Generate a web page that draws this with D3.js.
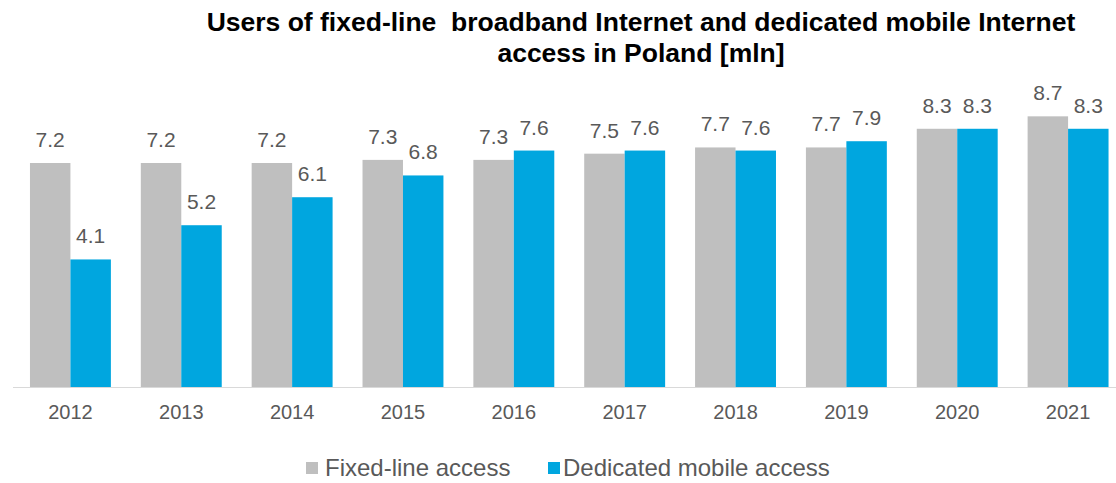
<!DOCTYPE html>
<html>
<head>
<meta charset="utf-8">
<script src="https://cdn.jsdelivr.net/npm/d3@7"></script>
<style>
  body { margin: 0; background: #fff; }
  text { font-family: Arial, "Liberation Sans", sans-serif; }
</style>
</head>
<body>
<script>
var width = 1116,
    height = 483;

var years = ["2012", "2013", "2014", "2015", "2016", "2017", "2018", "2019", "2020", "2021"];
var fixedLine = [7.2, 7.2, 7.2, 7.3, 7.3, 7.5, 7.7, 7.7, 8.3, 8.7];
var mobile = [4.1, 5.2, 6.1, 6.8, 7.6, 7.6, 7.6, 7.9, 8.3, 8.3];
var seriesNames = ["Fixed-line access", "Dedicated mobile access"];
var colors = ["#bfbfbf", "#00a6df"];

var svg = d3.select("body").append("svg")
    .attr("width", width)
    .attr("height", height);

var x0 = d3.scaleBand()
    .domain(years)
    .range([15, 1123.5])
    .paddingInner(0.27)
    .paddingOuter(0.135);

var x1 = d3.scaleBand()
    .domain([0, 1])
    .range([0, x0.bandwidth()]);

var y = d3.scaleLinear()
    .domain([0, 9])
    .range([387, 107]);

var data = years.map(function(yr, i) {
  return { year: yr, values: [fixedLine[i], mobile[i]] };
});

// title
var title = svg.append("text")
    .attr("text-anchor", "middle")
    .attr("font-weight", "bold")
    .attr("font-size", 26.5)
    .attr("fill", "#000");
title.append("tspan").attr("x", 641).attr("y", 31)
    .text("Users of fixed-line  broadband Internet and dedicated mobile Internet")
    .style("white-space", "pre");
title.append("tspan").attr("x", 641).attr("y", 62)
    .text("access in Poland [mln]");

var groups = svg.selectAll(".grp")
    .data(data)
  .enter().append("g")
    .attr("class", "grp")
    .attr("transform", function(d) { return "translate(" + x0(d.year) + ",0)"; });

groups.selectAll("rect")
    .data(function(d) { return d.values; })
  .enter().append("rect")
    .attr("x", function(d, i) { return x1(i); })
    .attr("y", function(d) { return y(d); })
    .attr("width", x1.bandwidth())
    .attr("height", function(d) { return y(0) - y(d); })
    .attr("fill", function(d, i) { return colors[i]; });

groups.selectAll(".val")
    .data(function(d) { return d.values; })
  .enter().append("text")
    .attr("class", "val")
    .attr("x", function(d, i) { return x1(i) + x1.bandwidth() / 2; })
    .attr("y", function(d) { return y(d) - 16; })
    .attr("text-anchor", "middle")
    .attr("font-size", 21)
    .attr("fill", "#595959")
    .text(function(d) { return d.toFixed(1); });

// x axis
var xAxis = svg.append("g")
    .attr("transform", "translate(0," + y(0) + ")")
    .call(d3.axisBottom(x0).tickSize(0).tickPadding(18));
xAxis.select(".domain").attr("d", "M13,0.5H1116").attr("stroke", "#d9d9d9");
xAxis.selectAll("text")
    .attr("font-size", 20)
    .attr("fill", "#595959")
    .style("font-family", "Arial, 'Liberation Sans', sans-serif");

// legend
var legend = svg.append("g").attr("transform", "translate(306,476)");
var lx = [0, 242];
seriesNames.forEach(function(name, i) {
  var g = legend.append("g").attr("transform", "translate(" + lx[i] + ",0)");
  g.append("rect")
    .attr("x", 0).attr("y", -14)
    .attr("width", 12).attr("height", 12)
    .attr("fill", colors[i]);
  g.append("text")
    .attr("x", i === 0 ? 19 : 15).attr("y", 0)
    .attr("font-size", 24)
    .attr("fill", "#595959")
    .text(name);
});
</script>
</body>
</html>
